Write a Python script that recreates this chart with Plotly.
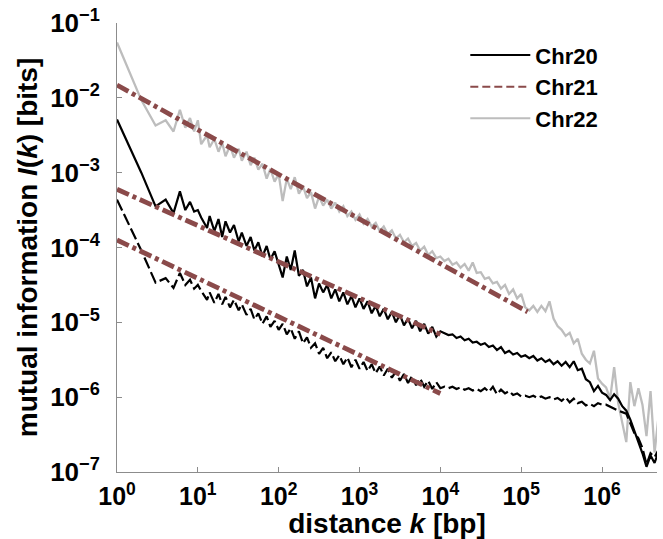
import plotly.graph_objects as go

# distance k [bp] (shared sampling grid)
distance = [1, 2, 3, 4, 5, 6, 7, 8, 9, 10,
            11, 13, 14, 16, 18, 20, 22, 25, 28, 32, 35, 40, 45, 50, 56, 63, 71, 79, 89, 100,
            112, 126, 141, 158, 178, 200, 224, 251, 282, 316, 355, 398, 447, 501, 562, 631, 708, 794, 891, 1000,
            1122, 1259, 1413, 1585, 1778, 1995, 2239, 2512, 2818, 3162, 3548, 3981, 4467, 5012, 5623, 6310, 7079, 7943, 8913, 10000,
            11220, 12589, 14125, 15849, 17783, 19953, 22387, 25119, 28184, 31623, 35481, 39811, 44668, 50119, 56234, 63096, 70795, 79433, 89125, 100000,
            112202, 125893, 141254, 158489, 177828, 199526, 223872, 251189, 281838, 316228, 354813, 398107, 446684, 501187, 562341, 630957, 707946, 794328, 891251, 1000000,
            1122018, 1258925, 1412538, 1584893, 1778279, 1995262, 2238721, 2511886, 2818383, 3162278, 3548134, 3981072, 4466836, 5011872]

# log10 of mutual information I(k) [bits]
chr20_log = [-2.29, -3.00, -3.45, -3.36, -3.54, -3.25, -3.50, -3.39, -3.52, -3.50,
             -3.60, -3.74, -3.58, -3.78, -3.62, -3.86, -3.65, -3.80, -3.70, -3.92, -3.80, -3.98, -3.86, -4.04, -3.93, -4.12, -3.98, -4.16, -4.05, -4.22,
             -4.40, -4.12, -4.30, -4.04, -4.38, -4.30, -4.52, -4.40, -4.68, -4.48, -4.60, -4.50, -4.68, -4.56, -4.72, -4.60, -4.76, -4.65, -4.80, -4.68,
             -4.82, -4.72, -4.88, -4.78, -4.92, -4.82, -4.96, -4.86, -5.00, -4.90, -5.04, -4.95, -5.08, -4.98, -5.12, -5.02, -5.15, -5.06, -5.19, -5.12,
             -5.15, -5.17, -5.16, -5.21, -5.19, -5.24, -5.22, -5.27, -5.26, -5.30, -5.28, -5.33, -5.31, -5.37, -5.33, -5.41, -5.38, -5.43, -5.41, -5.46,
             -5.44, -5.48, -5.45, -5.51, -5.48, -5.53, -5.50, -5.56, -5.52, -5.58, -5.53, -5.60, -5.52, -5.64, -5.62, -5.76, -5.80, -5.92, -5.85, -5.94,
             -5.97, -6.04, -5.96, -6.02, -6.12, -6.18, -6.30, -6.45, -6.62, -6.75, -6.93, -6.78, -6.88, -6.72]

chr21_log = [-3.36, -4.04, -4.47, -4.41, -4.54, -4.34, -4.50, -4.43, -4.55, -4.50,
             -4.58, -4.70, -4.60, -4.74, -4.62, -4.76, -4.66, -4.80, -4.70, -4.84, -4.76, -4.90, -4.82, -4.96, -4.88, -5.02, -4.92, -5.06, -4.98, -5.10,
             -5.02, -5.16, -5.08, -5.22, -5.12, -5.28, -5.20, -5.34, -5.28, -5.42, -5.34, -5.48, -5.40, -5.52, -5.44, -5.56, -5.47, -5.60, -5.50, -5.62,
             -5.53, -5.65, -5.56, -5.68, -5.59, -5.71, -5.62, -5.74, -5.66, -5.78, -5.69, -5.81, -5.72, -5.84, -5.75, -5.86, -5.78, -5.89, -5.80, -5.88,
             -5.86, -5.88, -5.86, -5.89, -5.87, -5.90, -5.88, -5.91, -5.89, -5.92, -5.88, -5.93, -5.86, -5.96, -5.90, -5.95, -5.92, -5.97, -5.95, -5.99,
             -5.98, -6.00, -5.98, -6.01, -5.99, -6.02, -6.00, -6.03, -6.01, -6.05, -6.00, -6.07, -6.02, -6.08, -6.06, -6.11, -6.09, -6.12, -6.08, -6.10,
             -6.10, -6.13, -6.15, -6.18, -6.20, -6.22, -6.35, -6.48, -6.55, -6.68, -6.90, -6.75, -6.80, -6.70]

chr22_log = [-1.26, -2.03, -2.37, -2.30, -2.45, -2.16, -2.40, -2.27, -2.45, -2.30,
             -2.62, -2.50, -2.66, -2.55, -2.72, -2.60, -2.78, -2.64, -2.80, -2.68, -2.84, -2.72, -2.90, -2.80, -2.96, -2.88, -3.08, -2.95, -3.12, -3.02,
             -3.38, -3.08, -3.22, -3.06, -3.28, -3.18, -3.34, -3.26, -3.48, -3.32, -3.44, -3.36, -3.48, -3.40, -3.52, -3.45, -3.58, -3.52, -3.63, -3.56,
             -3.68, -3.62, -3.72, -3.67, -3.78, -3.72, -3.82, -3.77, -3.88, -3.83, -3.93, -3.88, -3.98, -3.94, -4.04, -3.99, -4.10, -4.05, -4.14, -4.12,
             -4.18, -4.15, -4.23, -4.20, -4.27, -4.22, -4.31, -4.20, -4.34, -4.33, -4.42, -4.40, -4.48, -4.46, -4.55, -4.50, -4.62, -4.56, -4.68, -4.62,
             -4.80, -4.84, -4.78, -4.86, -4.78, -4.85, -4.72, -4.95, -5.05, -5.10, -5.18, -5.14, -5.28, -5.22, -5.42, -5.50, -5.55, -5.38, -5.75, -5.82,
             -5.87, -6.02, -5.60, -6.08, -6.34, -6.60, -5.80, -6.12, -5.88, -6.10, -6.52, -5.92, -6.74, -6.25]

# power-law fit segments (end points)
fit22_x = [1, 120000]
fit22_y = [1.48e-2, 1.38e-5]
fit20_x = [1, 10000]
fit20_y = [6.0e-4, 6.9e-6]
fit21_x = [1, 10000]
fit21_y = [1.26e-4, 1.12e-6]

y_tick_exp = [-7, -6, -5, -4, -3, -2, -1]
x_tick_exp = [0, 1, 2, 3, 4, 5, 6]

BROWN = "#8a4a4a"
GRAY = "#bdbdbd"
FONT = "Liberation Sans, Arial, Helvetica, sans-serif"

to_lin = lambda arr: [10 ** v for v in arr]

fig = go.Figure()

fig.add_trace(go.Scatter(x=distance, y=to_lin(chr22_log), mode="lines",
                         line=dict(color=GRAY, width=2.3), showlegend=False))
fig.add_trace(go.Scatter(x=distance, y=to_lin(chr20_log), mode="lines",
                         line=dict(color="black", width=2.2), showlegend=False))
fig.add_trace(go.Scatter(x=distance, y=to_lin(chr21_log), mode="lines",
                         line=dict(color="black", width=2.2, dash="12px,4px"), showlegend=False))

for fx, fy in [(fit22_x, fit22_y), (fit20_x, fit20_y), (fit21_x, fit21_y)]:
    fig.add_trace(go.Scatter(x=fx, y=fy, mode="lines",
                             line=dict(color=BROWN, width=4.8, dash="13px,4px,4px,4px"),
                             showlegend=False))

# legend entries
fig.add_trace(go.Scatter(x=[None], y=[None], mode="lines", name="Chr20",
                         line=dict(color="black", width=2)))
fig.add_trace(go.Scatter(x=[None], y=[None], mode="lines", name="Chr21",
                         line=dict(color=BROWN, width=2, dash="8px,4px")))
fig.add_trace(go.Scatter(x=[None], y=[None], mode="lines", name="Chr22",
                         line=dict(color=GRAY, width=2)))

fig.update_layout(
    width=663, height=539,
    margin=dict(l=117, r=6, t=23, b=67),
    paper_bgcolor="white", plot_bgcolor="white",
    font=dict(family=FONT, color="black"),
    legend=dict(x=0.645, y=0.975, xanchor="left", yanchor="top",
                font=dict(size=22, family=FONT, weight="bold"),
                bgcolor="rgba(0,0,0,0)", itemwidth=60, tracegroupgap=0),
)

fig.update_xaxes(
    type="log", range=[0, 6.68],
    showgrid=False, zeroline=False,
    showline=True, linecolor="#8c8c8c", linewidth=1,
    ticks="inside", ticklen=5, tickcolor="#8c8c8c",
    tickvals=[10 ** e for e in x_tick_exp],
    ticktext=["10<sup>%d</sup>" % e for e in x_tick_exp],
    tickfont=dict(size=25, family=FONT, weight="bold"),
    ticklabelstandoff=2,
    title=dict(text="distance <i>k</i> [bp]", standoff=2,
               font=dict(size=28, family=FONT, weight="bold")),
)
fig.update_yaxes(
    type="log", range=[-7, -1],
    showgrid=False, zeroline=False,
    showline=True, linecolor="#8c8c8c", linewidth=1,
    ticks="inside", ticklen=5, tickcolor="#8c8c8c",
    tickvals=[10 ** e for e in y_tick_exp],
    ticktext=["10<sup>\u2212%d</sup>" % (-e) for e in y_tick_exp],
    tickfont=dict(size=26, family=FONT, weight="bold"),
    ticklabelstandoff=11,
    title=dict(text="mutual information <i>I</i>(<i>k</i>) [bits]", standoff=4,
               font=dict(size=28, family=FONT, weight="bold")),
)

fig.write_html("out.html")
